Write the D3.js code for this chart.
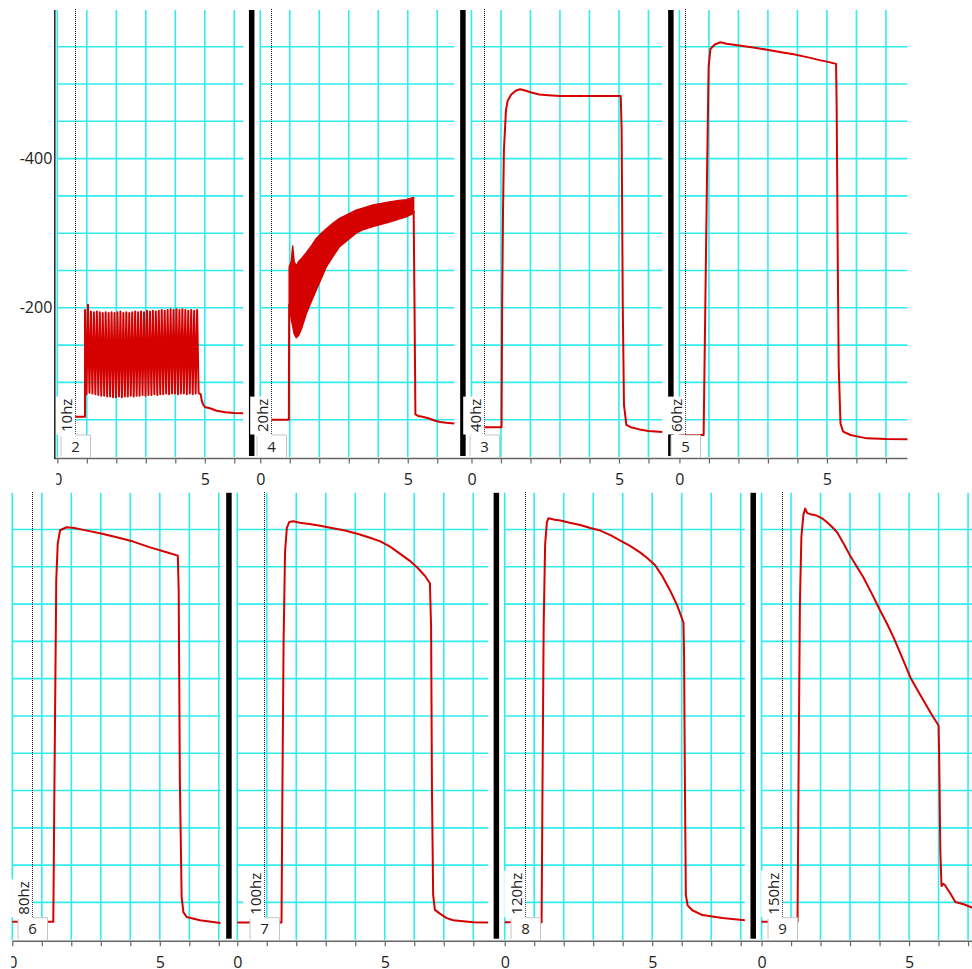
<!DOCTYPE html>
<html>
<head>
<meta charset="utf-8">
<script src="https://cdn.jsdelivr.net/npm/d3@7"></script>
<style>
  html, body { margin: 0; padding: 0; background: #fff; }
  svg { display: block; font-family: "Open Sans", "DejaVu Sans", sans-serif; }
</style>
</head>
<body>
<svg id="chart" width="972" height="969"></svg>
<script>
// ---- sweep metadata (display order: top row left→right, then bottom row) ----
const rateLabels     = ["10hz", "20hz", "40hz", "60hz", "80hz", "100hz", "120hz", "150hz"];
const sweepNumbers   = ["2", "4", "3", "5", "6", "7", "8", "9"];
const sweepDurations = [6.3, 6.58, 6.47, 7.73, 7.06, 8.5, 8.14, 7.4];   // seconds shown per sweep
const markerTimes    = [0.59, 0.38, 0.42, 0.2, 0.66, 0.92, 0.68, 0.7];  // dotted event marker
const sweepRow       = [0, 0, 0, 0, 1, 1, 1, 1];

// ---- axis ticks ----
const yTickValues  = [-400, -200];
const xLabelValues = [0, 5];
const gridLevels   = [-50, -100, -150, -200, -250, -300, -350, -400, -450, -500, -550];

// ---- 10 Hz sweep: baseline, individual responses, recovery ----
const pre10hz  = [[0, -54], [0.94, -54]];
const spikeOnset10hz = 0.94;
const spikePeriod10hz = 0.1;
const peaks10hz = [-197, -204, -195, -194, -195, -194, -193, -194, -193, -194, -193, -194, -195,
                   -193, -194, -193, -194, -195, -194, -195, -194, -196, -195, -196, -195, -196,
                   -197, -196, -197, -198, -197, -198, -197, -198, -197, -196, -197, -196, -197];
const troughs10hz = [-84, -86, -85, -84, -83, -82, -82, -81, -81, -80, -80, -81, -80,
                     -81, -81, -82, -81, -82, -82, -83, -82, -83, -83, -84, -83, -84,
                     -84, -85, -84, -85, -85, -84, -85, -85, -84, -85, -84, -85, -86];
const post10hz = [[4.86, -84], [4.9, -75], [4.95, -70], [5.0, -67], [5.2, -65], [5.4, -62],
                  [5.7, -60], [6.0, -59], [6.3, -58.5]];

// ---- 20 Hz sweep: baseline, unresolved ripple band (upper / lower envelope), recovery ----
const pre20hz = [[0, -50], [0.97, -50], [0.98, -205]];
const band20hzTime  = [0.98, 1.05, 1.10, 1.15, 1.22, 1.30, 1.40, 1.56, 1.75, 1.90, 2.10, 2.24,
                       2.45, 2.69, 3.00, 3.25, 3.50, 3.82, 4.10, 4.38, 4.70, 4.95, 5.20];
const band20hzUpper = [-255, -262, -283, -262, -256, -262, -266, -274, -284, -293, -301, -306,
                       -313, -320, -326, -331, -334, -338, -340, -342, -344, -345, -348];
const band20hzLower = [-205, -185, -175, -165, -160, -163, -172, -192, -210, -224, -242, -255,
                       -268, -282, -292, -300, -305, -309, -312, -315, -319, -322, -327];
const post20hz = [[5.2, -330], [5.23, -200], [5.26, -57], [5.35, -55], [5.5, -54], [5.7, -52],
                  [5.9, -49], [6.1, -47], [6.3, -46], [6.58, -45]];

// ---- fused (tetanic) sweeps ----
const trace40hz = [[0, -40], [1.02, -40], [1.04, -200], [1.07, -330], [1.10, -411], [1.17, -465],
                   [1.23, -478], [1.35, -486], [1.5, -491], [1.65, -493], [1.85, -491], [2.0, -489],
                   [2.3, -486], [2.6, -485], [3.0, -484], [3.5, -484], [4.0, -484], [4.5, -484],
                   [4.9, -484], [5.06, -484], [5.09, -440], [5.13, -200], [5.17, -70], [5.25, -43],
                   [5.4, -40], [5.7, -37], [6.0, -35], [6.47, -33.5]];
const trace60hz = [[0, -29.5], [0.82, -29.5], [0.85, -120], [0.88, -210], [0.94, -390], [0.99, -523],
                   [1.05, -547], [1.2, -553], [1.39, -556], [1.6, -554], [1.96, -552], [2.5, -549],
                   [2.97, -546], [3.4, -543], [3.87, -540], [4.2, -537], [4.44, -535], [4.75, -532],
                   [5.0, -530], [5.31, -527], [5.33, -470], [5.37, -250], [5.40, -121], [5.46, -45],
                   [5.55, -34], [5.8, -29.5], [6.1, -27], [6.36, -25], [7.0, -24], [7.73, -23.7]];
const trace80hz = [[0, -24], [1.39, -24], [1.42, -169], [1.46, -348], [1.49, -482], [1.54, -531],
                   [1.62, -549], [1.84, -553], [2.1, -552], [2.41, -549.5], [2.97, -545], [3.54, -539.6],
                   [4.1, -533.8], [4.67, -526], [5.23, -519.5], [5.61, -515], [5.64, -470], [5.68, -214],
                   [5.74, -57], [5.8, -37], [5.91, -30.5], [6.36, -26], [7.06, -22.5]];
const trace100hz = [[0, -23], [1.5, -23], [1.53, -200], [1.57, -400], [1.62, -520], [1.68, -552],
                    [1.76, -560], [1.9, -561], [2.12, -559], [2.5, -557], [2.81, -555], [3.2, -552],
                    [3.65, -548.6], [4.1, -544], [4.5, -539], [4.85, -534], [5.18, -527], [5.5, -518],
                    [5.85, -508], [6.1, -499], [6.36, -488], [6.53, -478], [6.57, -420], [6.6, -200],
                    [6.64, -60], [6.7, -40], [6.87, -35], [7.1, -29], [7.32, -26], [8.0, -23.5], [8.5, -23]];
const trace120hz = [[0, -23.5], [1.25, -23.5], [1.28, -200], [1.32, -420], [1.37, -530], [1.43, -560],
                    [1.48, -565], [1.7, -563], [1.89, -562], [2.2, -559], [2.56, -556], [2.9, -552],
                    [3.24, -548.6], [3.6, -542], [3.92, -535], [4.25, -528], [4.6, -519], [4.85, -511],
                    [5.1, -502], [5.35, -487], [5.61, -468], [5.85, -448], [6.06, -425], [6.08, -380],
                    [6.11, -200], [6.14, -60], [6.2, -46], [6.36, -39.5], [6.7, -33], [7.38, -29], [8.14, -26]];
const trace150hz = [[0, -24], [1.22, -24], [1.26, -250], [1.3, -450], [1.35, -540], [1.42, -570],
                    [1.48, -578], [1.55, -572], [1.7, -570], [1.87, -568.7], [2.05, -565], [2.22, -559.7],
                    [2.4, -553], [2.56, -546.3], [2.8, -530], [3.0, -515], [3.2, -502], [3.45, -486],
                    [3.75, -463], [4.02, -441.4], [4.25, -424], [4.47, -405.6], [4.75, -380], [5.04, -352],
                    [5.25, -337], [5.49, -320.8], [5.75, -303], [6.0, -287.3], [6.02, -250], [6.06, -120],
                    [6.1, -72], [6.16, -75], [6.22, -73], [6.3, -68], [6.4, -62], [6.57, -50.6],
                    [6.85, -47.5], [7.13, -43], [7.4, -42]];

// ---- layout ----
const W = 972, H = 969;
const PX_PER_SEC = 29.5;
const rows = [
  { left: 57.3, gap: 17.1, axisY: 458.5, topY: 9.4, yAxisX: 54.3 },
  { left: 12.3, gap: 16.7, axisY: 941.2, topY: 492.2, yAxisX: null }
];
const COLORS = { grid: "#30ecf0", trace: "#d50000", bar: "#000", axis: "#666", text: "#222", box: "#c4c4c4" };

const svg = d3.select("#chart");

// one y scale per row (response amplitude, more negative upward)
rows.forEach(r => {
  r.y = d3.scaleLinear().domain([2, -600]).range([r.axisY, r.topY]);
});

// one x scale per sweep, laid out side by side within its row
const sweeps = [];
rows.forEach((r, ri) => {
  let x0 = r.left;
  sweepRow.forEach((row, i) => {
    if (row !== ri) return;
    const x = d3.scaleLinear().domain([0, sweepDurations[i]]).range([x0, x0 + sweepDurations[i] * PX_PER_SEC]);
    sweeps.push({ i, row: r, x });
    x0 = x.range()[1] + r.gap;
  });
});

// zigzag series for the 10 Hz responses (one peak and one trough per stimulus)
const spikes10hz = peaks10hz.flatMap((p, k) => [
  [spikeOnset10hz + k * spikePeriod10hz, p],
  [spikeOnset10hz + k * spikePeriod10hz + spikePeriod10hz / 2, troughs10hz[k]]
]);
const band20hz = band20hzTime.map((t, k) => ({ t, hi: band20hzUpper[k], lo: band20hzLower[k] }));

const lineSets = [
  [pre10hz.concat(spikes10hz, post10hz)],
  [pre20hz, post20hz],
  [trace40hz], [trace60hz], [trace80hz], [trace100hz], [trace120hz], [trace150hz]
];

const gGrid = svg.append("g");
const gBars = svg.append("g");
const gTrace = svg.append("g");
const gBoxes = svg.append("g");
const gAxes = svg.append("g");

// grid
sweeps.forEach(s => {
  const r = s.row, x = s.x;
  const [xa, xb] = x.range();
  gGrid.selectAll(null).data(gridLevels).join("line")
    .attr("x1", xa).attr("x2", xb)
    .attr("y1", d => r.y(d)).attr("y2", d => r.y(d))
    .attr("stroke", COLORS.grid).attr("stroke-width", 1.6);
  const secs = d3.range(0, Math.floor(sweepDurations[s.i]) + 1);
  gGrid.selectAll(null).data(secs).join("line")
    .attr("x1", d => x(d)).attr("x2", d => x(d))
    .attr("y1", r.topY + 0.6).attr("y2", r.axisY - 1.5)
    .attr("stroke", COLORS.grid).attr("stroke-width", 1.6);
});

// black separators between consecutive sweeps of a row
sweeps.forEach((s, k) => {
  const next = sweeps[k + 1];
  if (!next || next.row !== s.row) return;
  const cx = (s.x.range()[1] + next.x.range()[0]) / 2;
  gBars.append("rect")
    .attr("x", cx - 2.75).attr("width", 5.5)
    .attr("y", s.row.topY + 0.6).attr("height", s.row.axisY - 2.5 - s.row.topY - 0.6)
    .attr("fill", COLORS.bar);
});

// event markers (dotted), snapped to the pixel grid so the dots stay crisp
sweeps.forEach(s => {
  const r = s.row;
  const m = Math.round(s.x(markerTimes[s.i])) + 0.5;
  gTrace.append("line")
    .attr("x1", m).attr("x2", m)
    .attr("y1", Math.round(r.topY)).attr("y2", r.axisY - 23.5)
    .attr("stroke", "#111").attr("stroke-width", 1)
    .attr("stroke-dasharray", "1,1");
});

// traces
sweeps.forEach(s => {
  const r = s.row, x = s.x;
  const line = d3.line().x(d => x(d[0])).y(d => r.y(d[1]));
  if (s.i === 1) {
    const area = d3.area().x(d => x(d.t)).y0(d => r.y(d.lo)).y1(d => r.y(d.hi));
    gTrace.append("path").attr("d", area(band20hz))
      .attr("fill", COLORS.trace).attr("stroke", COLORS.trace).attr("stroke-width", 1.4)
      .attr("stroke-linejoin", "round");
  }
  lineSets[s.i].forEach(series => {
    gTrace.append("path").attr("d", line(series))
      .attr("fill", "none").attr("stroke", COLORS.trace)
      .attr("stroke-width", 2).attr("stroke-linejoin", "round");
  });
});

// rate labels and sweep number boxes
sweeps.forEach(s => {
  const r = s.row;
  const m = Math.round(s.x(markerTimes[s.i])) + 0.5;
  const boxTop = r.axisY - 23.5;
  const g = gBoxes.append("g");
  const labelBg = g.append("rect").attr("fill", "#fff");
  const label = g.append("text")
    .attr("transform", `translate(${m - 3.2},${boxTop - 3}) rotate(-90)`)
    .attr("font-size", 15).attr("fill", COLORS.text)
    .text(rateLabels[s.i]);
  const len = label.node().getComputedTextLength();
  labelBg.attr("x", m - 21.3).attr("width", 21)
    .attr("y", boxTop - 3 - len - 2).attr("height", len + 4.5);

  g.append("rect").attr("x", m - 14.5).attr("width", 29.5)
    .attr("y", boxTop).attr("height", r.axisY - 1 - boxTop)
    .attr("fill", "#fff");
  g.append("path")
    .attr("d", `M${m - 14.5},${boxTop + 1}V${r.axisY - 2}M${m},${boxTop}H${m + 15}V${r.axisY - 1}`)
    .attr("fill", "none").attr("stroke", COLORS.box).attr("stroke-width", 1);
  g.append("text")
    .attr("x", m).attr("y", boxTop + 16.7)
    .attr("text-anchor", "middle").attr("font-size", 15).attr("fill", COLORS.text)
    .text(sweepNumbers[s.i]);
});

// x axes: continuous baseline per row, ticks every second, labels at 0 and 5
rows.forEach((r, ri) => {
  const rowSweeps = sweeps.filter(s => s.row === r);
  const xStart = r.yAxisX != null ? r.yAxisX : rowSweeps[0].x.range()[0];
  const xEnd = rowSweeps[rowSweeps.length - 1].x.range()[1];
  gAxes.append("line")
    .attr("x1", xStart).attr("x2", Math.min(xEnd, W))
    .attr("y1", r.axisY).attr("y2", r.axisY)
    .attr("stroke", COLORS.axis).attr("stroke-width", 1.5);

  // the first sweep's "0" label is trimmed at the row's left edge;
  // clip box is expressed in the axis group's local (translated) coordinates
  const clipId = "xlabels-clip-" + ri;
  svg.append("clipPath").attr("id", clipId)
    .append("rect").attr("x", rowSweeps[0].x.range()[0] - 1).attr("y", -2)
    .attr("width", W).attr("height", 40);

  rowSweeps.forEach(s => {
    const secs = d3.range(0, Math.floor(sweepDurations[s.i]) + 1);
    const ax = d3.axisBottom(s.x)
      .tickValues(secs)
      .tickSize(5)
      .tickPadding(10)
      .tickFormat(d => xLabelValues.includes(d) ? String(d) : "");
    const g = gAxes.append("g")
      .attr("transform", `translate(0,${r.axisY})`)
      .attr("clip-path", `url(#${clipId})`)
      .call(ax);
    g.select(".domain").remove();
    g.selectAll(".tick line").attr("stroke", COLORS.axis).attr("stroke-width", 1.2);
    g.selectAll(".tick text")
      .attr("font-family", "'Open Sans', 'DejaVu Sans', sans-serif")
      .attr("font-size", 16).attr("fill", COLORS.text);
  });
});

// y axis (top row only)
{
  const r = rows[0];
  const ay = d3.axisLeft(r.y)
    .tickValues(yTickValues)
    .tickSize(0).tickSizeOuter(0)
    .tickPadding(2)
    .tickFormat(d => String(d));
  const g = gAxes.append("g").attr("transform", `translate(${r.yAxisX},0)`).call(ay);
  g.select(".domain").attr("stroke", "#222").attr("stroke-width", 1.5);
  g.selectAll(".tick text")
    .attr("font-family", "'Open Sans', 'DejaVu Sans', sans-serif")
    .attr("font-size", 16).attr("fill", COLORS.text);
}
</script>
</body>
</html>
